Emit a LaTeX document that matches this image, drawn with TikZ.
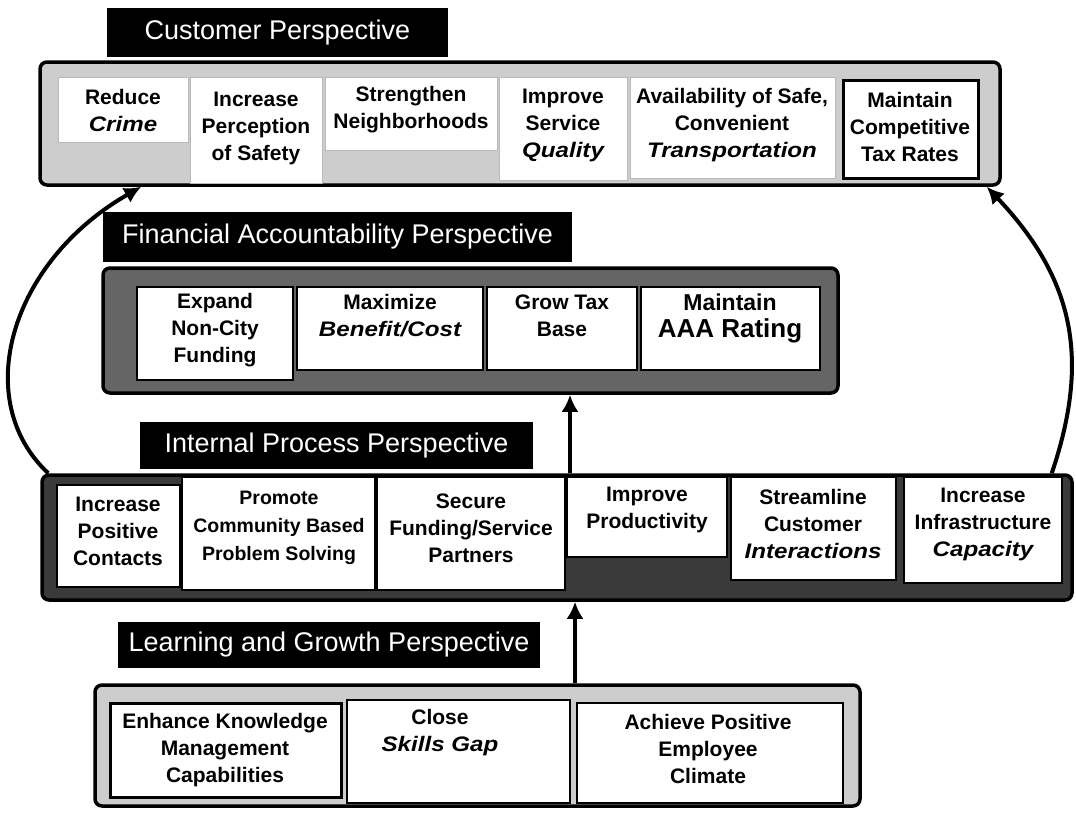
\documentclass[tikz,border=0pt]{standalone}
\usepackage{fontspec}
\setmainfont{Liberation Sans}
\usetikzlibrary{arrows.meta,fit,calc}

\definecolor{lightpanel}{HTML}{CDCDCD}
\definecolor{midpanel}{HTML}{656565}
\definecolor{darkpanel}{HTML}{3A3A3A}

% wide bold italic emphasis used for key words
\newcommand\emw[1]{\scalebox{1.15}[1]{\bfseries\itshape #1}}

\tikzset{
  header/.style={fill=black, inner sep=0pt},
  htxt/.style={text=white, inner sep=0pt, font=\fontsize{27}{32}\selectfont},
  panel/.style={draw=black, line width=3.5pt, rounded corners=7pt, inner sep=0pt},
  softcell/.style={fill=white, draw=gray!55, line width=0.6pt, inner sep=0pt},
  cell/.style={fill=white, draw=black, line width=2pt, inner sep=0pt},
  heavycell/.style={fill=white, draw=black, line width=3pt, inner sep=0pt},
  txt/.style={align=center, inner sep=0pt,
              font=\bfseries\fontsize{21}{27}\selectfont},
  flow/.style={draw=black, line width=4pt,
               -{Latex[length=17pt,width=17pt]}},
}

\begin{document}
\begin{tikzpicture}[x=1pt,y=-1pt]
\useasboundingbox[fill=white] (0,0) rectangle (1076,814);

% ---------- Customer perspective ----------
\node[header, fit={(107,8) (448,57)}] (hdrC) {};
\node[htxt] (hdrCt) at (hdrC.center) {Customer Perspective};
\node[panel, fill=lightpanel, fit={(40,62) (1000,185)}] (cust) {};
\node[softcell, fit={(58,77) (188,142)}] (c1) {};
\node[softcell, fit={(190,77) (322,183)}] (c2) {};
\node[softcell, fit={(325,77) (497,150)}] (c3) {};
\node[softcell, fit={(499,77) (627,180)}] (c4) {};
\node[softcell, fit={(630,77) (835,178)}] (c5) {};
\node[heavycell, fit={(843,80) (978,178)}] (c6) {};
\node[txt] (c1t) at (123,110) {Reduce\\\emw{Crime}};
\node[txt] (c2t) at (256,128) {Increase\\Perception\\of Safety};
\node[txt] (c3t) at (411,110) {Strengthen\\Neighborhoods};
\node[txt] (c4t) at (563,125) {Improve\\Service\\\emw{Quality}};
\node[txt] (c5t) at (732,125) {Availability of Safe,\\Convenient\\\emw{Transportation}};
\node[txt] (c6t) at (910,127) {Maintain\\Competitive\\Tax Rates};

% ---------- Financial accountability perspective ----------
\node[header, fit={(103,212) (572,262)}] (hdrF) {};
\node[htxt] (hdrFt) at (hdrF.center) {Financial Accountability Perspective};
\node[panel, fill=midpanel, fit={(103,268) (838,393)}] (fin) {};
\node[cell, fit={(137,287) (293,380)}] (f1) {};
\node[cell, fit={(297,287) (483,370)}] (f2) {};
\node[cell, fit={(487,287) (637,370)}] (f3) {};
\node[cell, fit={(641,287) (820,370)}] (f4) {};
\node[txt] (f1t) at (215,330) {Expand\\Non-City\\Funding};
\node[txt] (f2t) at (390,316) {Maximize\\\emw{Benefit/Cost}};
\node[txt] (f3t) at (562,316) {Grow Tax\\Base};
\node[txt] (f4t) at (730,318) {{\fontsize{23}{28}\selectfont Maintain}\\{\fontsize{26}{30}\selectfont AAA Rating}};

% ---------- Internal process perspective ----------
\node[header, fit={(140,422) (533,469)}] (hdrI) {};
\node[htxt] (hdrIt) at (hdrI.center) {Internal Process Perspective};
\node[panel, fill=darkpanel, fit={(42,475) (1072,600)}] (int) {};
\node[cell, fit={(57,485) (180,587)}] (i1) {};
\node[cell, fit={(182,477) (375,590)}] (i2) {};
\node[cell, fit={(377,477) (565,590)}] (i3) {};
\node[cell, fit={(567,477) (727,557)}] (i4) {};
\node[cell, fit={(731,477) (896,580)}] (i5) {};
\node[cell, fit={(904,477) (1062,583)}] (i6) {};
\node[txt] (i1t) at (118,531) {Increase\\Positive\\Contacts};
\node[txt, font=\bfseries\fontsize{19.5}{28}\selectfont] (i2t) at (279,528) {Promote\\Community Based\\Problem Solving};
\node[txt] (i3t) at (471,528) {Secure\\Funding/Service\\Partners};
\node[txt] (i4t) at (647,510) {Improve\\Productivity};
\node[txt] (i5t) at (813,524) {Streamline\\Customer\\\emw{Interactions}};
\node[txt] (i6t) at (983,524) {Increase\\Infrastructure\\\emw{Capacity}};

% ---------- Learning and growth perspective ----------
\node[header, fit={(118,622) (540,668)}] (hdrL) {};
\node[htxt] (hdrLt) at (hdrL.center) {Learning and Growth Perspective};
\node[panel, fill=lightpanel, fit={(95,685) (860,806)}] (learn) {};
\node[heavycell, fit={(110,703) (341,797)}] (l1) {};
\node[cell, fit={(347,700) (570,803)}] (l2) {};
\node[cell, fit={(577,703) (843,803)}] (l3) {};
\node[txt] (l1t) at (225,750) {Enhance Knowledge\\Management\\Capabilities};
\node[txt] (l2t) at (440,733) {Close\\\emw{Skills Gap}};
\node[txt] (l3t) at (708,749) {Achieve Positive\\Employee\\Climate};

% ---------- cause-and-effect links ----------
\coordinate (a1) at ([xshift=97.5]learn.north);
\draw[flow] (a1) -- (a1 |- int.south);
\coordinate (a2) at ([xshift=13]int.north);
\draw[flow] (a2) -- (a2 |- fin.south);
\draw[flow] ([xshift=8]int.north west)
  .. controls (-30,400) and (10,262) .. ([xshift=103]cust.south west);
\draw[flow] ([xshift=-22]int.north east)
  .. controls (1090,360) and (1075,280) .. ([xshift=-15]cust.south east);
\end{tikzpicture}
\end{document}
